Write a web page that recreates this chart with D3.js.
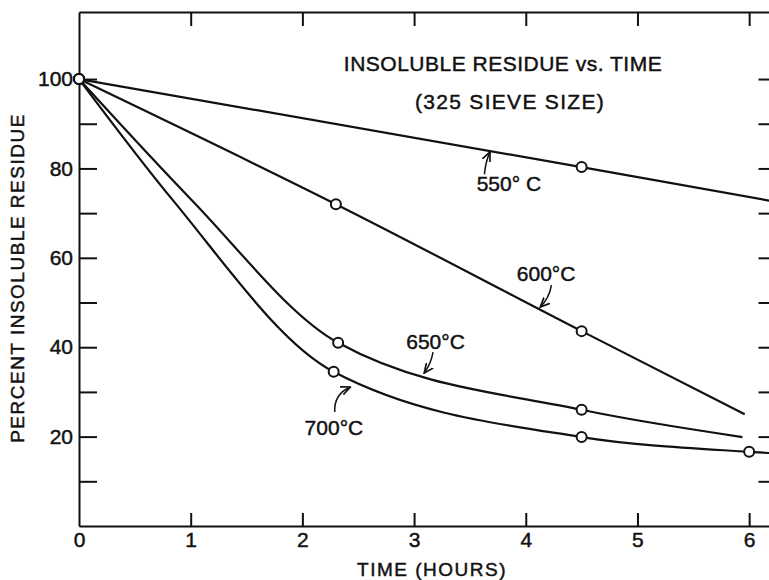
<!DOCTYPE html>
<html>
<head>
<meta charset="utf-8">
<script src="https://cdn.jsdelivr.net/npm/d3@7"></script>
<style>
    body { margin: 0; background: #fff; }
    text { font-family: "Liberation Sans", Arial, sans-serif; fill: #111; stroke: #111; stroke-width: 0.45px; }
</style>
</head>
<body>
<div id="chart"></div>
<script>
// values (hours, percent insoluble residue)
const time550 = [0, 4.5, 6.2];
const pct550 = [100, 80.3, 72.7];
const mark550 = [true, true, false];

const time600 = [0, 2.3, 4.5, 5.96];
const pct600 = [100, 72, 43.6, 25];
const mark600 = [true, true, true, false];

const time650 = [0, 1.01, 2.32, 4.5, 5.94];
const pct650 = [100, 72.9, 41, 26, 19.9];
const mark650 = [true, false, true, true, false];

const time700 = [0, 0.84, 2.28, 4.5, 6.0, 6.2];
const pct700 = [100, 72.9, 34.5, 19.9, 16.6, 16.3];
const mark700 = [true, false, true, true, true, false];

const xTicks = [0, 1, 2, 3, 4, 5, 6];
const yTicks = [10, 20, 30, 40, 50, 60, 70, 80, 90, 100];
const yLabels = [20, 40, 60, 80, 100];

const seriesNames = ["550° C", "600°C", "650°C", "700°C"];

const width = 769;
const height = 580;

const svg = d3.select('#chart')
    .append('svg')
    .attr('width', width)
    .attr('height', height);

const x = d3.scaleLinear().domain([0, 6.2]).range([79, 771.5]);
const y = d3.scaleLinear().domain([0, 115]).range([526, 12]);

// axes, ticks pointing into the plot
const styleAxis = g => {
    g.select('.domain').attr('stroke', '#111').attr('stroke-width', 2);
    g.selectAll('.tick line').attr('stroke', '#111').attr('stroke-width', 2);
    g.selectAll('.tick text').style('font-size', '21px').attr('fill', '#111');
};

svg.append('g')
    .attr('transform', `translate(0, ${y(0)})`)
    .call(d3.axisBottom(x).tickValues(xTicks).tickSizeInner(-13).tickSizeOuter(0).tickPadding(6).tickFormat(d3.format('d')))
    .call(styleAxis)
    .call(g => g.selectAll('.tick').filter(d => d === 0).select('line').remove());

svg.append('g')
    .attr('transform', `translate(0, ${y(115)})`)
    .call(d3.axisTop(x).tickValues(xTicks.slice(1)).tickSizeInner(-14).tickSizeOuter(0).tickFormat(''))
    .call(styleAxis);

svg.append('g')
    .attr('transform', `translate(${x(0)}, 0)`)
    .call(d3.axisLeft(y).tickValues(yTicks).tickSizeInner(-18).tickSizeOuter(0).tickPadding(6)
        .tickFormat(d => yLabels.includes(d) ? d : ''))
    .call(styleAxis);

svg.append('g')
    .attr('transform', `translate(${x(6.2)}, 0)`)
    .call(d3.axisRight(y).tickValues(yTicks).tickSizeInner(-13).tickSizeOuter(0).tickFormat(''))
    .call(styleAxis);

// axis titles
svg.append('text')
    .attr('x', 432)
    .attr('y', 576)
    .attr('text-anchor', 'middle')
    .style('font-size', '19px')
    .style('letter-spacing', '1.5px')
    .text('TIME (HOURS)');

svg.append('text')
    .attr('transform', `translate(24, ${278}) rotate(-90)`)
    .attr('text-anchor', 'middle')
    .style('font-size', '19px')
    .style('letter-spacing', '1.5px')
    .text('PERCENT INSOLUBLE RESIDUE');

// chart title
svg.append('text')
    .attr('x', 503)
    .attr('y', 71)
    .attr('text-anchor', 'middle')
    .style('font-size', '21px')
    .style('letter-spacing', '0.5px')
    .text('INSOLUBLE RESIDUE vs. TIME');

svg.append('text')
    .attr('x', 510)
    .attr('y', 109)
    .attr('text-anchor', 'middle')
    .style('font-size', '21px')
    .style('letter-spacing', '1.3px')
    .text('(325 SIEVE SIZE)');

// curves
const series = [
    { times: time550, pcts: pct550, marks: mark550 },
    { times: time600, pcts: pct600, marks: mark600 },
    { times: time650, pcts: pct650, marks: mark650 },
    { times: time700, pcts: pct700, marks: mark700 }
].map(s => s.times.map((t, i) => ({ t: t, p: s.pcts[i], mark: s.marks[i] })));

const line = d3.line()
    .x(d => x(d.t))
    .y(d => y(d.p))
    .curve(d3.curveMonotoneX);

svg.selectAll('.curve')
    .data(series)
    .join('path')
    .attr('class', 'curve')
    .attr('fill', 'none')
    .attr('stroke', '#111')
    .attr('stroke-width', 2.2)
    .attr('d', line);

svg.selectAll('.pt')
    .data(series.flat().filter(d => d.mark))
    .join('circle')
    .attr('class', 'pt')
    .attr('cx', d => x(d.t))
    .attr('cy', d => y(d.p))
    .attr('r', 5)
    .attr('fill', '#fff')
    .attr('stroke', '#111')
    .attr('stroke-width', 2);

// labels with small curved arrows (data units)
const labelAt = [
    { t: 3.56, p: 74.9, from: [3.63, 78.7], bend: [3.64, 81.5], to: [3.68, 83.7] },
    { t: 3.92, p: 54.8, from: [4.23, 53.9], bend: [4.21, 51.0], to: [4.13, 49.0] },
    { t: 2.93, p: 39.6, from: [3.17, 38.9], bend: [3.15, 36.2], to: [3.09, 34.2] },
    { t: 2.02, p: 20.4, from: [2.29, 25.5], bend: [2.28, 29.5], to: [2.43, 31.1] }
];

svg.append('defs').append('marker')
    .attr('id', 'head')
    .attr('viewBox', '0 0 10 10')
    .attr('refX', 9)
    .attr('refY', 5)
    .attr('markerWidth', 7)
    .attr('markerHeight', 7)
    .attr('orient', 'auto')
    .append('path')
    .attr('d', 'M0,1 L9,5 L0,9')
    .attr('fill', 'none')
    .attr('stroke', '#111')
    .attr('stroke-width', 1.6);

svg.selectAll('.lbl')
    .data(labelAt)
    .join('text')
    .attr('class', 'lbl')
    .attr('x', d => x(d.t))
    .attr('y', d => y(d.p))
    .style('font-size', '21px')
    .text((d, i) => seriesNames[i]);

svg.selectAll('.arrow')
    .data(labelAt)
    .join('path')
    .attr('class', 'arrow')
    .attr('fill', 'none')
    .attr('stroke', '#111')
    .attr('stroke-width', 1.5)
    .attr('marker-end', 'url(#head)')
    .attr('d', d => {
        const p = d3.path();
        p.moveTo(x(d.from[0]), y(d.from[1]));
        p.quadraticCurveTo(x(d.bend[0]), y(d.bend[1]), x(d.to[0]), y(d.to[1]));
        return p.toString();
    });
</script>
</body>
</html>
